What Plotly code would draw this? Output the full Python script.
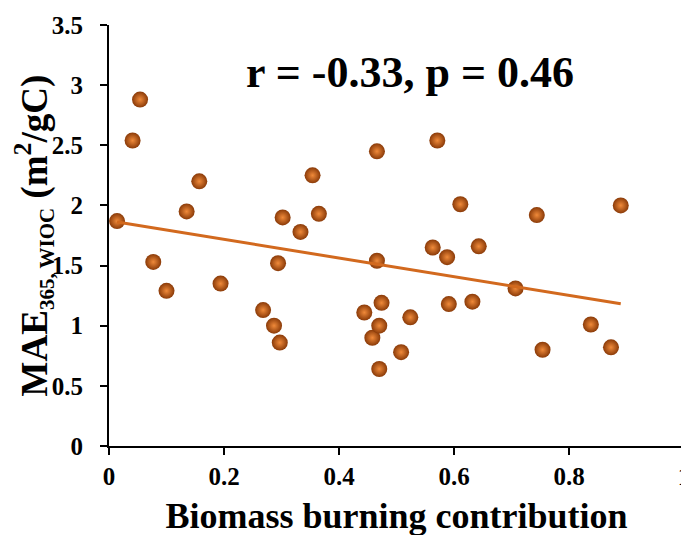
import numpy as np
import plotly.graph_objects as go

bb_contribution = [0.014, 0.041, 0.054, 0.077, 0.100, 0.135, 0.157, 0.194, 0.268, 0.287,
                   0.294, 0.297, 0.302, 0.333, 0.354, 0.365, 0.444, 0.458, 0.466, 0.466,
                   0.470, 0.470, 0.474, 0.508, 0.524, 0.563, 0.571, 0.588, 0.591, 0.611,
                   0.632, 0.643, 0.707, 0.744, 0.754, 0.838, 0.873, 0.890]
mae365 = [1.87, 2.54, 2.88, 1.53, 1.29, 1.95, 2.20, 1.35, 1.13, 1.00,
          1.52, 0.86, 1.90, 1.78, 2.25, 1.93, 1.11, 0.90, 2.45, 1.54,
          1.00, 0.64, 1.19, 0.78, 1.07, 1.65, 2.54, 1.57, 1.18, 2.01,
          1.20, 1.66, 1.31, 1.92, 0.80, 1.01, 0.82, 2.00]
stat_text = "r = -0.33, p = 0.46"
x_ticks = [0, 0.2, 0.4, 0.6, 0.8, 1]
y_ticks = [0, 0.5, 1, 1.5, 2, 2.5, 3, 3.5]

x = np.array(bb_contribution)
y = np.array(mae365)
slope, intercept = np.polyfit(x, y, 1)
xl = np.array([x.min(), x.max()])
yl = slope * xl + intercept

FONT = "Liberation Serif, Times New Roman, serif"
fig = go.Figure()
fig.add_trace(go.Scatter(
    x=x, y=y, mode="markers",
    marker=dict(size=16, color="#8A3A08",
                gradient=dict(type="radial", color="#F08A3A"),
                line=dict(width=0)),
    showlegend=False, cliponaxis=False))
fig.add_trace(go.Scatter(
    x=xl, y=yl, mode="lines",
    line=dict(color="#D2691E", width=3), showlegend=False))

fig.add_annotation(text="<b>" + stat_text + "</b>", xref="paper", yref="paper",
                   x=0.523, y=0.8875, xanchor="center", yanchor="middle", showarrow=False,
                   font=dict(family=FONT, size=44, color="black"))

axis_common = dict(showline=True, linecolor="black", linewidth=2, ticks="outside",
                   ticklen=7, tickwidth=2, tickcolor="black", showgrid=False,
                   zeroline=False, tickfont=dict(family=FONT, size=25, color="black"))
fig.update_xaxes(range=[0, 1], tickvals=x_ticks, ticktext=["<b>%g</b>" % v for v in x_ticks],
                 ticklabelstandoff=0,
                 title=dict(text="<b>Biomass burning contribution</b>", standoff=14,
                            font=dict(family=FONT, size=36, color="black")),
                 automargin=False, **axis_common)
fig.update_yaxes(range=[0, 3.5], tickvals=y_ticks, ticktext=["<b>%g</b>" % v for v in y_ticks],
                 ticklabelstandoff=12,
                 title=dict(text="<b>MAE<sub><span style='font-size:21px'>365, WIOC</span></sub> (m<sup>2</sup>/gC)</b>",
                            standoff=0,
                            font=dict(family=FONT, size=37, color="black")),
                 automargin=False, **axis_common)
fig.update_layout(width=689, height=535, plot_bgcolor="white", paper_bgcolor="white",
                  margin=dict(l=101, r=13, t=17, b=97))
fig.write_html("out.html")
